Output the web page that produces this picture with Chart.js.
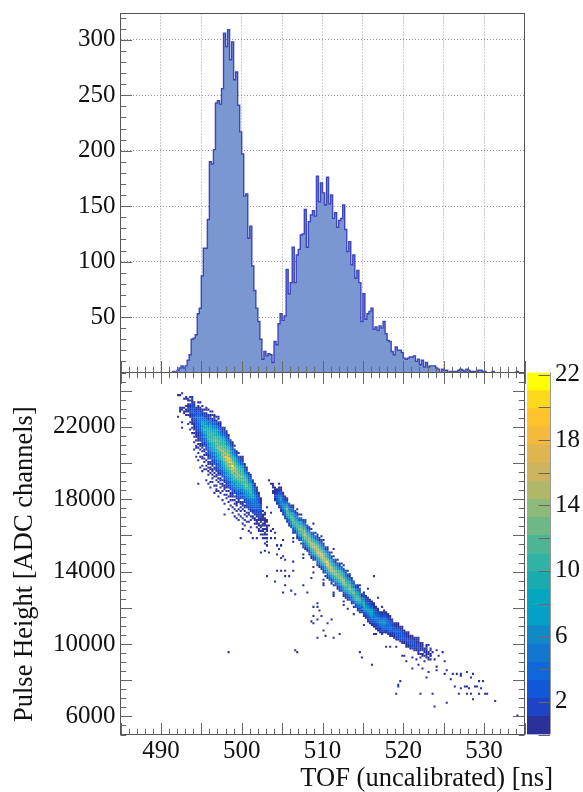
<!DOCTYPE html>
<html>
<head>
<meta charset="utf-8">
<script src="https://cdn.jsdelivr.net/npm/chart.js@4"></script>
<style>
  html, body { margin: 0; background: #fff; }
  canvas { position: absolute; }
</style>
</head>
<body>
<canvas id="histChart" width="583" height="373" style="left:0px;top:0px"></canvas>
<canvas id="mapChart" width="583" height="420" style="left:0px;top:372px"></canvas>
<canvas id="barChart" width="63" height="394" style="left:520px;top:352px"></canvas>
<script>
// TOF histogram, counts per 0.25 ns bin starting at bin 26 (491.5 ns)
const histFirstBin = 25;
const histCounts = [0,1,0,2,4,6,4,6,11,16,30,31,34,53,58,87,112,112,138,190,188,201,243,245,242,256,306,294,309,282,298,264,271,241,217,197,159,161,121,132,96,74,58,46,30,12,19,15,17,
  16,9,28,25,44,53,47,51,93,71,81,113,81,106,111,124,125,147,113,136,142,146,141,177,154,171,162,151,176,152,160,139,144,131,137,139,151,129,109,118,97,106,85,92,81,46,71,48,53,55,58,39,41,38,42,
  40,46,35,29,28,19,16,23,20,20,18,13,12,13,14,14,15,10,12,7,11,5,9,5,6,6,6,4,3,0,3,2,2,0,1,1,1,1,2,3,2,1,3,2,1,1,1,1,2,2,1,1,0,0,0,1,0,0,0,0,0,0,0,0,0,0,0,1,0];

// pulse height map: each column (0.25 ns) has a first row (100 ADC each) and counts going up
const cellFirstBin = 28;
const cellStartRow = [175,178,169,177,176,171,168,166,164,159,158,157,153,152,150,147,146,144,144,142,141,140,138,136,135,134,132,130,129,127,127,127,125,123,122,120,120,118,116,114,112,110,108,105,104,
  140,138,133,129,127,125,123,121,119,117,115,113,111,110,108,106,105,103,102,100,99,97,96,95,93,92,90,89,87,86,84,83,82,81,80,79,78,76,75,74,73,72,70,69,68,67,66,65,64,62,61,60,59,58,57,56,55,
  56,56,55,54,54,53,52,52,51,50,50,49,48,47,47,46,46,45,44,43,43,42,41,41];
const cellCounts = [
  [1,0,0,0,0,0,0,0,0,0,0,0,1],
  [1,1,1,0,0,0,0,0,0,1],
  [1,0,0,1,0,0,0,0,0,0,2,1,0,0,0,0,0,0,0,1],
  [1,1,0,1,0,0,0,0,1],
  [1,0,1,1,0,1,0,0,0,1,1],
  [1,0,0,0,0,1,0,1,2,2,1,1,0,1,1],
  [1,0,0,0,1,0,0,1,1,2,2,1,2,1,2,0,1,0,1],
  [1,0,0,1,0,1,1,1,1,2,2,2,3,3,2,3,2,1,1,1,1],
  [1,0,1,0,1,1,1,1,2,2,3,3,2,3,3,2,3,2,1,1],
  [1,0,0,1,0,1,1,1,2,2,2,3,3,3,2,3,4,3,2,2,1,1],
  [1,0,1,0,1,1,1,2,1,2,2,3,4,3,4,4,5,4,4,3,3,2,1,1,0,1],
  [1,0,1,1,0,1,1,2,2,2,3,3,4,4,5,5,4,5,4,3,3,2,1,1,0,0,1],
  [1,0,0,1,0,2,1,1,3,2,2,4,3,5,6,5,8,6,9,7,6,4,4,2,1,2,1,0,1],
  [1,0,1,0,1,1,0,3,2,2,4,3,6,5,8,7,10,8,9,7,8,4,5,2,3,1,0,1],
  [0,1,0,0,1,2,0,1,3,1,4,2,5,4,7,6,9,7,10,8,9,6,7,4,3,1,2,1,0,1,1],
  [1,0,1,1,0,2,1,1,3,2,4,3,6,5,8,7,10,9,12,10,11,8,9,6,5,3,4,1,1,2,0,0,1],
  [1,1,0,2,1,0,3,2,2,4,3,6,5,8,7,9,10,11,9,12,10,11,8,9,7,7,4,5,2,3,1,0,1],
  [0,1,1,0,2,1,3,1,4,3,5,4,7,6,8,8,10,9,12,9,11,10,10,8,7,5,6,3,4,1,2,0,1,0,1],
  [1,0,2,1,0,3,1,3,4,3,6,5,8,7,9,9,11,10,13,10,12,9,10,8,8,5,6,3,4,1,2,1,1],
  [1,1,0,2,1,1,3,2,5,3,6,5,8,8,10,9,12,11,14,11,13,10,11,9,9,7,7,4,5,2,3,1,0,1],
  [1,0,2,1,1,3,2,4,3,6,5,7,8,9,10,12,11,14,11,13,11,12,9,10,8,8,5,6,3,3,1,2,0,1,1],
  [1,1,0,2,1,3,2,5,3,6,4,7,8,10,9,12,11,15,12,13,10,12,10,9,8,7,4,5,2,3,1,1,1],
  [1,0,2,0,3,2,4,3,6,4,7,7,9,9,12,11,15,12,17,12,13,10,11,9,9,7,6,3,4,1,2,1,0],
  [1,1,0,2,1,3,2,5,4,6,6,8,8,11,10,14,12,18,13,16,12,14,11,12,10,10,8,8,5,5,2,3,1,1,0],
  [0,1,2,1,3,2,4,4,6,5,8,8,11,10,14,12,17,14,19,13,15,11,12,9,9,6,7,3,4,1,2,1,1],
  [1,0,2,1,3,2,5,4,6,7,9,9,12,11,15,13,19,15,21,14,16,12,13,10,10,7,7,4,4,1,2,1,0],
  [1,1,0,2,2,3,4,3,6,5,8,7,10,10,14,12,17,14,20,14,16,11,12,9,9,6,6,3,4,1,2,0],
  [0,1,2,1,4,2,5,4,7,6,9,8,11,11,15,13,18,15,22,14,15,11,11,9,8,5,6,2,3,1,1,1],
  [1,0,2,0,3,1,4,3,6,4,7,7,10,10,13,11,16,13,17,12,13,11,11,8,8,5,5,2,3,0,1],
  [1,1,0,2,1,4,2,5,4,6,6,9,8,11,11,15,12,16,13,14,12,12,9,9,6,6,3,3,1,1],
  [0,1,2,1,3,2,4,3,6,5,8,8,10,11,13,12,15,12,13,10,10,8,7,5,5,2,3,0,1],
  [1,1,0,2,2,4,2,5,4,7,7,9,10,12,11,14,11,12,9,10,7,7,3,4,1,1,1],
  [0,1,1,2,0,3,2,4,3,6,5,7,7,10,10,13,11,14,11,12,10,10,7,7,3,4,1,1,1],
  [1,0,1,1,0,2,1,4,3,6,5,8,7,11,10,13,11,13,10,10,7,8,4,4,1,2,1,0],
  [1,0,0,2,1,3,2,4,3,6,5,8,8,11,10,14,11,13,10,10,6,7,3,4,1,1,0],
  [0,1,1,0,2,1,3,2,4,3,6,5,8,7,10,9,11,8,9,6,6,3,4,1,2,0],
  [1,0,0,2,1,3,2,4,3,6,5,8,8,12,10,12,9,10,7,7,4,4,1,2,0],
  [0,1,1,0,2,1,3,2,4,3,6,5,8,7,9,7,8,5,6,3,4,1,2,0],
  [1,0,1,1,0,1,2,2,3,3,4,4,5,5,6,6,5,5,4,3,2,1,1],
  [1,0,1,1,1,0,1,1,2,2,3,3,4,4,5,4,4,3,3,2,2,1,1],
  [1,1,0,1,1,0,1,1,2,2,2,3,3,3,4,4,3,3,2,2,1,1],
  [1,0,1,0,1,1,0,1,1,1,2,2,2,2,3,2,2,1,1,1,1],
  [1,0,1,0,0,1,0,1,1,0,1,1,2,1,0,1],
  [1,0,0,1,0,1,1,0,1,0,1,1,1,1,1,0,1,1],
  [1,0,1,0,1,0,1,0,1,1,1,1,0,1,1],
  [1],
  [1],
  [1,1,0,1,1,1],
  [1,1,2,2,1,1,1,1],
  [1,2,3,3,3,2,2,1,1],
  [1,2,3,4,5,5,5,4,3,2,1,1,0,1],
  [1,1,2,4,5,6,7,7,6,4,3,2,1,1],
  [1,2,3,4,6,6,6,5,4,3,2,1,1],
  [1,1,3,4,6,7,7,6,5,4,2,1,1],
  [1,3,3,8,9,12,12,14,9,9,5,5,1,2,0],
  [1,1,4,4,8,8,11,9,9,5,5,2,3,0],
  [0,2,2,6,6,10,10,12,9,9,5,5,1,2,0],
  [1,3,2,7,7,11,11,14,11,11,8,7,3,4,1,1],
  [0,2,2,6,6,10,9,12,9,9,5,5,2,3,0],
  [1,1,4,4,8,9,12,11,12,9,9,5,5,2,2,0,1],
  [0,3,2,6,7,10,11,14,11,11,8,7,3,4,0,1],
  [1,0,4,3,7,8,12,12,15,12,12,8,7,3,4,0,1],
  [1,3,2,6,7,10,11,14,12,13,10,9,6,5,2,2,0],
  [1,1,4,4,8,10,14,13,17,13,14,10,9,5,4,1,2,0],
  [0,2,1,5,6,9,10,13,12,13,9,9,5,5,1,2,0],
  [1,3,2,6,7,10,11,15,13,15,11,10,7,6,2,2,0],
  [1,1,4,5,9,10,13,14,16,13,13,9,8,4,4,0,1],
  [1,3,3,6,8,11,12,16,14,15,11,10,7,6,2,3,0],
  [0,2,4,4,8,10,13,14,16,14,13,9,8,4,4,0,1],
  [1,3,3,7,8,12,13,17,15,18,14,13,9,8,5,4,1,2,0],
  [1,1,5,5,9,10,14,14,17,14,14,10,9,5,5,1,2,0],
  [0,2,2,6,7,11,12,16,15,18,14,13,10,8,5,4,1,2,0,1],
  [1,1,4,4,8,9,13,14,17,15,15,11,10,7,6,2,2,0],
  [1,0,4,4,7,8,12,13,16,14,15,11,10,7,6,2,3,0],
  [1,3,3,6,8,12,14,19,16,20,13,13,9,8,4,4,1,2,0],
  [0,2,4,4,8,9,13,14,16,14,14,10,10,6,6,2,2,0],
  [1,3,2,6,7,11,12,16,15,16,12,11,8,7,3,3,0,1],
  [1,0,4,4,8,9,13,13,15,12,12,8,7,4,4,0,1],
  [0,3,2,6,7,11,12,15,13,14,10,10,6,5,1,2,0],
  [1,1,4,4,8,9,13,13,14,11,11,8,7,3,3,0,1],
  [1,3,3,6,7,11,11,14,13,13,10,10,6,5,1,2,0],
  [0,2,4,4,8,9,13,13,15,12,12,8,8,4,4,0,1],
  [1,1,2,6,7,10,11,15,14,15,12,11,8,7,3,3,0,1],
  [1,3,2,6,7,10,11,14,12,12,9,9,5,5,1,2,0],
  [1,1,4,4,7,8,11,10,12,9,9,6,6,2,3,0,1],
  [0,3,2,6,6,11,12,15,13,13,9,9,5,5,1,2],
  [1,1,4,4,8,8,12,11,12,8,8,4,5,1,2],
  [1,0,3,3,7,8,12,12,14,10,10,6,6,2,3,0],
  [0,3,2,6,6,10,10,12,9,9,5,5,2,3,0],
  [1,1,4,4,8,8,12,11,12,8,8,4,4,1,2],
  [1,3,2,5,5,9,9,12,9,9,5,5,2,3,0,1],
  [0,2,1,4,3,7,6,8,5,5,1,2,0],
  [1,2,3,5,7,9,10,10,8,6,4,3,2,1],
  [1,2,3,4,5,7,7,6,5,3,2,1,1],
  [1,1,2,3,5,6,7,7,6,5,3,2,1,1],
  [1,2,3,4,6,7,8,7,6,4,3,2,1,1],
  [1,1,3,4,5,7,8,8,7,5,4,2,1,1],
  [1,2,2,3,4,5,5,5,4,3,2,1,1],
  [1,2,2,3,4,5,6,5,4,3,2,1,1],
  [1,1,2,3,4,5,5,5,4,3,2,1,1],
  [1,2,3,4,5,6,6,5,4,3,2,1],
  [1,1,2,3,4,5,6,6,5,3,2,1,1],
  [1,2,3,4,6,7,6,5,4,3,2,1,1],
  [1,2,3,3,4,5,5,4,3,2,1,1],
  [1,2,2,3,4,4,4,3,2,1,1,1],
  [1,1,2,3,4,4,4,3,2,1,1,1],
  [1,1,2,3,3,3,2,2,1,1],
  [1,1,2,2,3,2,2,1,1],
  [1,2,3,3,4,3,2,1,1,1],
  [1,2,2,3,3,3,2,1,1,1],
  [1,2,3,3,3,3,2,1,1],
  [1,1,2,3,3,3,2,1,1,1],
  [1,1,2,2,2,2,1,1],
  [1,1,2,2,2,1,1,1],
  [1,1,2,2,2,1,1,1,1],
  [1,1,2,3,2,2,1,1],
  [1,2,2,3,2,1,1,1],
  [1,1,2,2,3,2,1,1],
  [1,1,1,2,1,1,1,1],
  [1,1,2,2,2,1,1,1,1],
  [1,0,1,1,1,1,1],
  [1,1,0,2,1,1,1,1],
  [1,0,1,1,1],
  [1,1,1,0,2,1,1,1],
  [1,1,0,1,1],
  [1,0,1,1,0,1,1]
];

// single stray cells away from the two bands
const strayBin = [59,65,67,75,76,80,77,79,78,71,69,60,38,51,47,70,71,72,73,74,70,72,74,72,74,76,72,77,79,73,77,80,79,81,85,77,79,81,85,81,83,72,76,81,90,80,84,86,92,94,100,110,105,112,95,97,97,98,95,99,94,95,97,102,104,97,101,108,105,100,125,105,100,95,122,127,125,129,127,126,131,128,131,133,136,141,
  139,140,141,144,146,148,147,149,151,154,153,157,155,150,147,149,144,152,156,156,160,159,156,152,161,160,164,166,168,168,171,174,163,173,177,179,165,170,171,175,176,168,172,178,167,171,173,177,180,181,174,185,161,155,196,151,138,137,137,136,148,154,119,124,118,53,86,87,
  36,36,37,37,38,38,39,39,40,40,40,41,41,42,42,42,43,43,43,44,44,44,45,45,45,46,46,46,47,47,47,48,48,48,49,49,49,50,50,50,51,51,51,52,52,52,53,53,53,54,54,54,55,55,55,56,56,56,57,57,57,58,58,58,59,59,59,60,60,60,61,61,61,62,62,63,63,64,64,64,
  85,85,90,90,95,95,100,100,105,105,110,115,120,125];
const strayRow = [108,108,108,113,111,107,104,104,102,101,100,113,138,121,134,120,117,125,115,122,112,112,112,108,108,108,104,104,104,100,99,98,97,96,95,90,90,90,90,87,87,87,84,82,82,78,79,77,78,86,82,71,77,69,70,72,70,68,65,65,62,61,63,61,63,53,54,55,53,57,87,102,107,116,80,75,72,70,68,55,56,58,48,48,48,48,
  43,43,40,42,41,42,44,44,45,45,43,43,41,40,38,36,36,34,35,37,40,45,46,49,35,33,33,33,33,32,34,33,30,31,29,29,26,26,26,26,26,25,25,25,22,22,22,22,22,22,19,18,17,15,10,31,29,27,26,22,22,22,42,38,45,45,46,45,
  157,161,153,158,151,155,147,153,145,148,152,146,150,140,146,148,143,145,138,136,139,144,139,141,143,133,137,142,135,140,137,131,134,139,133,136,138,129,134,137,127,132,135,130,132,134,124,128,131,126,129,131,122,125,129,120,124,127,123,126,119,118,121,124,120,123,125,116,119,124,115,118,121,117,120,112,117,114,118,111,
  108,106,99,97,92,89,85,83,78,76,73,66,60,55];

// z scale bands of the map, bottom to top
const bandColors = ['#2A3299','#1D44C4','#1058D8','#1067DA','#1377D0','#1188C8','#05A0C8','#03A6BE','#1AABAF','#30B3A5','#4DB593','#6DB884','#8DBA78','#B0B868','#CDB45C','#DFB550','#F5B93C','#FFC12C','#FDD91C','#FFFF00'];
const zMax = 22.13;

const tofTickStep = 1;
const tofLabels = [490, 500, 510, 520, 530];
const countLabels = [50, 100, 150, 200, 250, 300];
const adcLabels = [6000, 10000, 14000, 18000, 22000];
const zLabels = [2, 6, 10, 14, 18, 22];

const serif = 'Liberation Serif';
const axisGrey = '#666';

// keep the panels where they are in the picture, whatever the labels want
function fixWidth(width) {
  return s => {
    s.width = width;
    s.paddingTop = s.paddingBottom = s.paddingLeft = s.paddingRight = 0;
  };
}
function fixHeight(height) {
  return s => {
    s.height = height;
    s.paddingTop = s.paddingBottom = s.paddingLeft = s.paddingRight = 0;
  };
}

// ticks go inside the frame, so they are drawn here rather than by the axes
function innerTicks(chart, id, edge, dir, isMajor) {
  const ctx = chart.ctx, scale = chart.scales[id];
  ctx.save();
  ctx.strokeStyle = axisGrey;
  ctx.lineWidth = 1;
  ctx.beginPath();
  scale.ticks.forEach(t => {
    const p = Math.round(scale.getPixelForValue(t.value)) + 0.5;
    const len = (isMajor(t.value) ? 11.5 : 5.7) * dir;
    if (scale.isHorizontal()) {
      ctx.moveTo(p, edge);
      ctx.lineTo(p, edge + len);
    } else {
      ctx.moveTo(edge, p);
      ctx.lineTo(edge + len, p);
    }
  });
  ctx.stroke();
  ctx.restore();
}

function frame(chart) {
  const a = chart.chartArea, ctx = chart.ctx;
  ctx.save();
  ctx.strokeStyle = '#555';
  ctx.lineWidth = 1;
  ctx.strokeRect(a.left, a.top, a.right - a.left, a.bottom - a.top);
  ctx.restore();
}

const tofMajor = v => v % 5 === 0;

new Chart(document.getElementById('histChart'), {
  type: 'line',
  data: {
    datasets: [{
      data: histCounts.map((c, i) => ({ x: 485 + (histFirstBin + i) * 0.25, y: c })),
      stepped: 'before',
      fill: 'origin',
      pointRadius: 0,
      borderWidth: 1.4,
      borderColor: '#3D45BD',
      backgroundColor: '#7B97D1',
      segment: {
        borderColor: c => (c.p0.parsed.y === 0 && c.p1.parsed.y === 0) ? 'transparent' : undefined
      }
    }]
  },
  options: {
    responsive: false,
    animation: false,
    layout: { autoPadding: false, padding: { left: 0.5, right: 58.5, top: 13.5, bottom: 0.5 } },
    plugins: { legend: { display: false }, tooltip: { enabled: false } },
    scales: {
      x: {
        type: 'linear', min: 485, max: 535,
        afterFit: fixHeight(0),
        border: { display: false, dash: [1, 2] },
        grid: { drawTicks: false, color: c => tofMajor(c.tick.value) ? '#999' : 'transparent' },
        ticks: { display: false, stepSize: tofTickStep, autoSkip: false, includeBounds: false }
      },
      y: {
        min: 0, max: 323.7,
        afterFit: fixWidth(120),
        border: { display: false, dash: [1, 2] },
        grid: { drawTicks: false, color: c => c.tick.value % 50 === 0 ? '#999' : 'transparent' },
        ticks: {
          stepSize: 10, autoSkip: false, includeBounds: false, padding: 5,
          color: '#111', font: { family: serif, size: 25 },
          callback: v => countLabels.includes(v) ? String(v) : ''
        }
      }
    }
  },
  plugins: [{
    id: 'histFrame',
    afterDraw(chart) {
      const a = chart.chartArea;
      frame(chart);
      innerTicks(chart, 'x', a.bottom, -1, tofMajor);
      innerTicks(chart, 'y', a.left, 1, v => v % 50 === 0);
    }
  }]
});

const mapPoints = [];
const mapColors = [];
function addCell(bin, row, count) {
  mapPoints.push({ x: 485 + (bin + 0.5) * 0.25, y: 5000 + (row + 0.5) * 100 });
  mapColors.push(bandColors[Math.min(19, Math.floor(count / (zMax / 20)))]);
}
cellCounts.forEach((col, i) => col.forEach((count, j) => {
  if (count > 0) addCell(cellFirstBin + i, cellStartRow[i] + j, count);
}));
strayBin.forEach((b, i) => addCell(b, strayRow[i], 1));

new Chart(document.getElementById('mapChart'), {
  type: 'scatter',
  data: {
    datasets: [{
      data: mapPoints,
      pointStyle: 'rect',
      pointRadius: 1.45,
      pointBorderWidth: 0,
      pointBackgroundColor: mapColors
    }]
  },
  options: {
    responsive: false,
    animation: false,
    layout: { autoPadding: false, padding: { left: 0.5, right: 58.5, top: 0.5, bottom: 0 } },
    plugins: { legend: { display: false }, tooltip: { enabled: false } },
    scales: {
      x: {
        type: 'linear', min: 485, max: 535,
        afterFit: fixHeight(57.5),
        border: { display: false },
        grid: { display: false, drawTicks: false },
        ticks: {
          stepSize: tofTickStep, autoSkip: false, includeBounds: false, maxRotation: 0, padding: 2,
          color: '#111', font: { family: serif, size: 25 },
          callback: v => tofLabels.includes(v) ? String(v) : ''
        }
      },
      y: {
        min: 5000, max: 25000,
        afterFit: fixWidth(120),
        border: { display: false },
        grid: { display: false, drawTicks: false },
        ticks: {
          stepSize: 500, autoSkip: false, includeBounds: false, padding: 5,
          color: '#111', font: { family: serif, size: 25 },
          callback: v => adcLabels.includes(v) ? String(v) : ''
        }
      }
    }
  },
  plugins: [{
    id: 'mapFrame',
    afterDraw(chart) {
      const a = chart.chartArea, ctx = chart.ctx;
      frame(chart);
      innerTicks(chart, 'x', a.bottom, -1, tofMajor);
      innerTicks(chart, 'x', a.top, 1, tofMajor);
      innerTicks(chart, 'y', a.left, 1, v => v % 2000 === 0);
      innerTicks(chart, 'y', a.right, -1, v => v % 2000 === 0);

      ctx.save();
      ctx.fillStyle = '#111';
      ctx.font = '26.5px "' + serif + '"';
      ctx.textBaseline = 'alphabetic';
      ctx.textAlign = 'right';
      ctx.fillText('TOF (uncalibrated) [ns]', 553, 414);
      ctx.textAlign = 'left';
      ctx.translate(32, 350);
      ctx.rotate(-Math.PI / 2);
      ctx.fillText('Pulse Height [ADC channels]', 0, 0);
      ctx.restore();
    }
  }]
});

new Chart(document.getElementById('barChart'), {
  type: 'bar',
  data: {
    labels: ['z'],
    datasets: bandColors.map((color, i) => ({
      data: [[i * zMax / 20, (i + 1) * zMax / 20]],
      backgroundColor: color,
      borderWidth: 0,
      barPercentage: 1,
      categoryPercentage: 1,
      grouped: false
    }))
  },
  options: {
    responsive: false,
    animation: false,
    layout: { autoPadding: false, padding: { left: 7, right: 0, top: 20.5, bottom: 11.5 } },
    plugins: { legend: { display: false }, tooltip: { enabled: false } },
    scales: {
      x: { display: false },
      y: {
        position: 'right',
        min: 0, max: zMax,
        afterFit: fixWidth(33),
        border: { display: false },
        grid: { display: false, drawTicks: false },
        ticks: {
          stepSize: 2, autoSkip: false, includeBounds: false, padding: 5,
          color: '#111', font: { family: serif, size: 25 },
          callback: v => zLabels.includes(v) ? String(v) : ''
        }
      }
    }
  },
  plugins: [{
    id: 'barTicks',
    afterDraw(chart) {
      const a = chart.chartArea, ctx = chart.ctx;
      innerTicks(chart, 'y', a.right, -1, () => true);
      ctx.save();
      ctx.strokeStyle = '#999';
      ctx.beginPath();
      ctx.moveTo(a.right + 0.5, a.top);
      ctx.lineTo(a.right + 0.5, a.bottom);
      ctx.stroke();
      ctx.restore();
    }
  }]
});
</script>
</body>
</html>
